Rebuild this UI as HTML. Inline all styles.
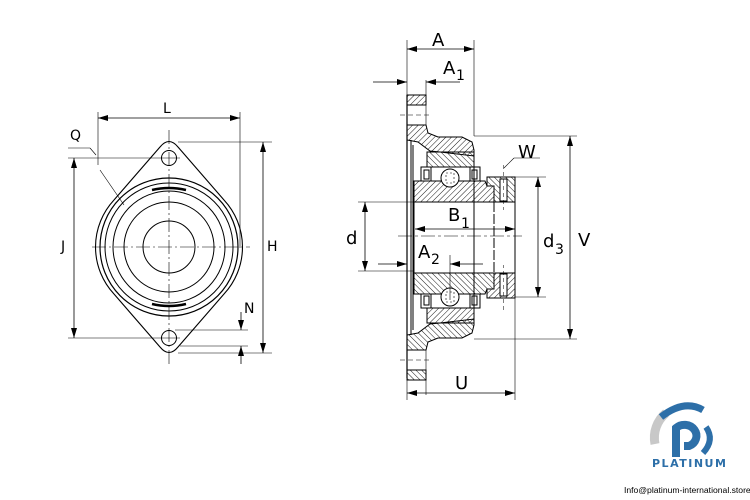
<!DOCTYPE html>
<html><head><meta charset="utf-8"><style>
html,body{margin:0;padding:0;background:#fff;}
svg{display:block;}
text{font-family:"DejaVu Sans","Liberation Sans",sans-serif;fill:#000;}
</style></head><body>
<svg width="750" height="500" viewBox="0 0 750 500" xmlns="http://www.w3.org/2000/svg">
<defs>
<pattern id="h" width="4" height="4" patternUnits="userSpaceOnUse" patternTransform="rotate(45)">
<line x1="0" y1="0" x2="0" y2="4" stroke="#000" stroke-width="0.9"/></pattern>
<pattern id="h2" width="4" height="4" patternUnits="userSpaceOnUse" patternTransform="rotate(-45)">
<line x1="0" y1="0" x2="0" y2="4" stroke="#000" stroke-width="0.9"/></pattern>
<marker id="a" viewBox="0 0 10 6" refX="10" refY="3" markerWidth="10" markerHeight="6" orient="auto-start-reverse" markerUnits="userSpaceOnUse"><path d="M0,0L10,3L0,6z" fill="#000"/></marker>
</defs>
<g fill="none" stroke="#000" stroke-width="1">
<path d="M160,147 Q169,136 178,147 L224,200 A69,69 0 0 1 224,294 L178,347 Q169,358 160,347 L114,294 A69,69 0 0 1 114,200 Z" stroke-width="1.1"/>
<circle cx="169" cy="247" r="69" stroke-width="1.2"/>
<circle cx="169" cy="247" r="64"/>
<circle cx="169" cy="247" r="56"/>
<circle cx="169" cy="247" r="45"/>
<circle cx="169" cy="247" r="26"/>
<circle cx="169" cy="158" r="7.5"/>
<circle cx="169" cy="338" r="7.5"/>
<path d="M152,190 Q169,186 186,190" stroke-width="2.5"/>
<path d="M152,304 Q169,308 186,304" stroke-width="2.5"/>
<g stroke-width="0.6">
<line x1="169" y1="130" x2="169" y2="366" stroke-dasharray="14,3,2,3"/>
<line x1="92" y1="247" x2="250" y2="247" stroke-dasharray="14,3,2,3"/>
<line x1="98" y1="112" x2="98" y2="165"/>
<line x1="240" y1="112" x2="240" y2="248"/>
<line x1="178" y1="142" x2="272" y2="142"/>
<line x1="178" y1="353" x2="272" y2="353"/>
<line x1="68" y1="158" x2="180" y2="158"/>
<line x1="68" y1="338" x2="180" y2="338"/>
<line x1="175" y1="330" x2="248" y2="330"/>
<line x1="180" y1="346" x2="248" y2="346"/>
<line x1="68" y1="148" x2="90" y2="148"/>
<line x1="90" y1="148" x2="96" y2="155"/>
<line x1="100" y1="170" x2="124" y2="205"/>
</g>
<line x1="98" y1="118" x2="240" y2="118" marker-start="url(#a)" marker-end="url(#a)" stroke-width="0.8"/>
<line x1="263" y1="142" x2="263" y2="353" marker-start="url(#a)" marker-end="url(#a)" stroke-width="0.8"/>
<line x1="74" y1="158" x2="74" y2="338" marker-start="url(#a)" marker-end="url(#a)" stroke-width="0.8"/>
<line x1="241" y1="312" x2="241" y2="330" marker-end="url(#a)" stroke-width="0.8"/>
<line x1="241" y1="364" x2="241" y2="346" marker-end="url(#a)" stroke-width="0.8"/>

<g id="top">
<rect x="407" y="95" width="19" height="10" fill="url(#h)"/>
<path d="M407,125 L426,125 L428,133 L438,137 L462,137 L472,142 L474,150 L474,156 L440,152 L430,151 L418,142 L407,140 Z" fill="url(#h)"/>
<line x1="426" y1="80" x2="426" y2="125" stroke-width="0.6"/>
<line x1="400" y1="115" x2="432" y2="115" stroke-width="0.6" stroke-dasharray="5,3"/>
<rect x="427" y="152" width="47" height="15" fill="url(#h2)"/>
<rect x="421" y="167" width="10" height="14"/>
<rect x="470" y="167" width="10" height="14"/>
<rect x="424" y="170" width="5" height="9"/>
<rect x="472" y="170" width="5" height="9"/>
<path d="M414,181 L485,181 L487,186 L494,186 L494,202 L414,202 Z" fill="url(#h)"/>
<path d="M487,177 L515,177 L515,202 L494,202 L494,186 L487,186 Z" fill="url(#h2)"/>
<rect x="500" y="179" width="7" height="22" fill="#fff"/>
<line x1="503.5" y1="165" x2="503.5" y2="210" stroke-width="0.5" stroke-dasharray="4,3"/>
<circle cx="450" cy="178" r="9" fill="#fff"/>
<rect x="446" y="173" width="8" height="10" stroke-width="0.6" stroke-dasharray="2,2"/>
</g>
<use href="#top" transform="translate(0,475) scale(1,-1)"/>
<line x1="407" y1="95" x2="407" y2="378" stroke-width="1.2"/>
<line x1="411" y1="140" x2="411" y2="335"/>
<line x1="413" y1="145" x2="413" y2="330"/>
<line x1="414" y1="202" x2="414" y2="273"/>
<line x1="494" y1="202" x2="494" y2="273" stroke-dasharray="10,2"/>
<line x1="474" y1="156" x2="474" y2="319"/>
<line x1="515" y1="202" x2="515" y2="273"/>
<g stroke-width="0.6">
<line x1="407" y1="40" x2="407" y2="95"/>
<line x1="474" y1="40" x2="474" y2="136"/>
<line x1="515" y1="297" x2="515" y2="400"/>
<line x1="407" y1="378" x2="407" y2="400"/>
<line x1="474" y1="136" x2="577" y2="136"/>
<line x1="474" y1="339" x2="577" y2="339"/>
<line x1="515" y1="177" x2="546" y2="177"/>
<line x1="515" y1="297" x2="546" y2="297"/>
<line x1="358" y1="202" x2="414" y2="202"/>
<line x1="358" y1="271" x2="414" y2="271"/>
<line x1="398" y1="236" x2="522" y2="236" stroke-dasharray="14,3,3,3"/>
<line x1="450" y1="255" x2="450" y2="300"/>
<line x1="504" y1="168" x2="514" y2="158"/>
<line x1="514" y1="158" x2="540" y2="158"/>
</g>
<g stroke-width="0.8">
<line x1="407" y1="49" x2="474" y2="49" marker-start="url(#a)" marker-end="url(#a)"/>
<line x1="373" y1="82" x2="407" y2="82" marker-end="url(#a)"/>
<line x1="460" y1="82" x2="426" y2="82" marker-end="url(#a)"/>
<line x1="415" y1="229" x2="515" y2="229" marker-start="url(#a)" marker-end="url(#a)"/>
<line x1="378" y1="264" x2="407" y2="264" marker-end="url(#a)"/>
<line x1="483" y1="264" x2="450" y2="264" marker-end="url(#a)"/>
<line x1="407" y1="393" x2="515" y2="393" marker-start="url(#a)" marker-end="url(#a)"/>
<line x1="365" y1="202" x2="365" y2="271" marker-start="url(#a)" marker-end="url(#a)"/>
<line x1="538" y1="177" x2="538" y2="297" marker-start="url(#a)" marker-end="url(#a)"/>
<line x1="570" y1="136" x2="570" y2="339" marker-start="url(#a)" marker-end="url(#a)"/>
</g>
</g>
<g font-size="14">
<text x="163" y="113">L</text>
<text x="70" y="140">Q</text>
<text x="61" y="251">J</text>
<text x="267" y="251">H</text>
<text x="244" y="313">N</text>
</g>
<g font-size="18">
<text x="432" y="46">A</text>
<text x="443" y="74">A</text><text x="456" y="80" font-size="14">1</text>
<text x="518" y="158">W</text>
<text x="448" y="221">B</text><text x="461" y="228" font-size="14">1</text>
<text x="346" y="244">d</text>
<text x="418" y="258">A</text><text x="431" y="264" font-size="14">2</text>
<text x="543" y="247">d</text><text x="555" y="254" font-size="14">3</text>
<text x="578" y="246">V</text>
<text x="455" y="389">U</text>
</g>
<path d="M655,444 A32,32 0 0 1 666,413" fill="none" stroke="#c8c8c8" stroke-width="9"/>
<path d="M661,417 Q684,399 703,410" fill="none" stroke="#2d6fa8" stroke-width="7"/>
<path d="M706,427 Q715,440 703,453" fill="none" stroke="#2d6fa8" stroke-width="6"/>
<path d="M676,457 L676,428 A12,11 0 1 1 689,446 L684,446" fill="none" stroke="#2d6fa8" stroke-width="8"/>
<text x="652" y="467" font-size="11" font-weight="bold" style="fill:#2d6fa8;letter-spacing:1.5px">PLATINUM</text>
<text x="624" y="493" font-size="8.6" style="font-family:'Liberation Sans',sans-serif">Info@platinum-international.store</text>
</svg>
</body></html>
